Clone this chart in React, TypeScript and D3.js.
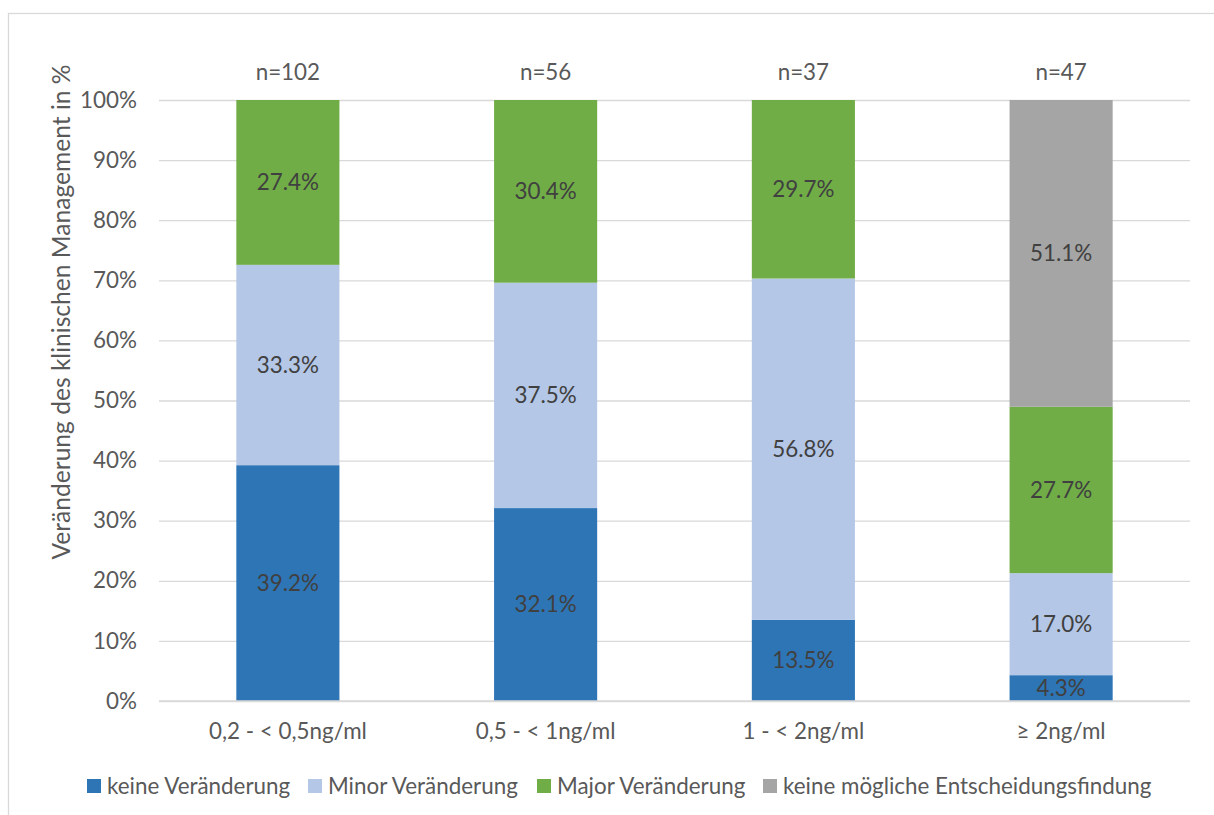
import React, { useEffect, useRef } from 'react';
import * as d3 from 'd3';

const categories = ['0,2 - < 0,5ng/ml', '0,5 - < 1ng/ml', '1 - < 2ng/ml', '≥ 2ng/ml'];
const sampleSizes = ['n=102', 'n=56', 'n=37', 'n=47'];
const seriesNames = ['keine Veränderung', 'Minor Veränderung', 'Major Veränderung', 'keine mögliche Entscheidungsfindung'];
const keine = [39.2, 32.1, 13.5, 4.3];
const minor = [33.3, 37.5, 56.8, 17.0];
const major = [27.4, 30.4, 29.7, 27.7];
const keineEntscheidung = [0, 0, 0, 51.1];
const yTicks = [0, 0.1, 0.2, 0.3, 0.4, 0.5, 0.6, 0.7, 0.8, 0.9, 1];
const colors = ['#2e75b6', '#b4c7e7', '#70ad47', '#a5a5a5'];

const W = 1214;
const H = 815;
const FONT = 'Lato, Calibri, sans-serif';
const FS = 22.4;

const App = () => {
  const svgRef = useRef(null);

  useEffect(() => {
    const svg = d3.select(svgRef.current);
    svg.selectAll('*').remove();

    const margin = { top: 100, right: 24, bottom: 114, left: 159 };
    const x = d3.scaleBand().domain(categories).range([margin.left, W - margin.right]).paddingInner(0.6).paddingOuter(0.3);
    const y = d3.scaleLinear().domain([0, 1]).range([H - margin.bottom, margin.top]);

    // chart frame
    svg.append('rect')
      .attr('x', 8.5).attr('y', 13.5)
      .attr('width', W + 20).attr('height', H + 20)
      .attr('fill', '#fff').attr('stroke', '#d9d9d9').attr('stroke-width', 1.3);

    // gridlines + y ticks
    const yAxis = d3.axisLeft(y).tickValues(yTicks).tickFormat(d3.format('.0%')).tickSize(-(W - margin.right - margin.left)).tickPadding(22);
    svg.append('g')
      .attr('transform', `translate(${margin.left},0)`)
      .call(yAxis)
      .call(g => g.select('.domain').remove())
      .call(g => g.selectAll('.tick line').attr('stroke', '#d9d9d9').attr('stroke-width', 1.3))
      .call(g => g.selectAll('.tick text').attr('fill', '#595959').style('font-family', FONT).style('font-size', FS + 'px'));

    // stacked (100%) bars
    const table = categories.map((c, i) => {
      const vals = [keine[i], minor[i], major[i], keineEntscheidung[i]];
      const sum = d3.sum(vals);
      const row = { cat: c };
      seriesNames.forEach((s, j) => { row[s] = vals[j] / sum; row[s + '_raw'] = vals[j]; });
      return row;
    });
    const stack = d3.stack().keys(seriesNames)(table);

    const layers = svg.append('g').selectAll('g').data(stack).join('g').attr('fill', (d, i) => colors[i]);
    layers.selectAll('rect')
      .data(d => d.filter(p => p[1] - p[0] > 0))
      .join('rect')
      .attr('x', d => x(d.data.cat))
      .attr('width', x.bandwidth())
      .attr('y', d => y(d[1]))
      .attr('height', d => y(d[0]) - y(d[1]));

    // data labels
    const labels = svg.append('g');
    stack.forEach(layer => {
      layer.forEach(p => {
        const raw = p.data[layer.key + '_raw'];
        if (!raw) return;
        labels.append('text')
          .attr('x', x(p.data.cat) + x.bandwidth() / 2)
          .attr('y', (y(p[0]) + y(p[1])) / 2)
          .attr('dy', '0.35em')
          .attr('text-anchor', 'middle')
          .attr('fill', '#404040')
          .style('font-family', FONT).style('font-size', FS + 'px')
          .text(d3.format('.1f')(raw) + '%');
      });
    });

    // n= labels
    svg.append('g').selectAll('text').data(categories).join('text')
      .attr('x', d => x(d) + x.bandwidth() / 2)
      .attr('y', 72)
      .attr('dy', '0.35em')
      .attr('text-anchor', 'middle')
      .attr('fill', '#595959')
      .style('font-family', FONT).style('font-size', FS + 'px')
      .text((d, i) => sampleSizes[i]);

    // x axis
    svg.append('g')
      .attr('transform', `translate(0,${y(0)})`)
      .call(d3.axisBottom(x).tickSize(0).tickPadding(22))
      .call(g => g.select('.domain').attr('stroke', '#d9d9d9').attr('stroke-width', 1.5).attr('d', `M${margin.left},0H${W - margin.right}`))
      .call(g => g.selectAll('.tick text').attr('fill', '#595959').style('font-family', FONT).style('font-size', FS + 'px'));

    // y axis title
    svg.append('text')
      .attr('transform', 'translate(61,312) rotate(-90)')
      .attr('dy', '0.35em')
      .attr('text-anchor', 'middle')
      .attr('fill', '#595959')
      .style('font-family', FONT).style('font-size', '24.6px')
      .text('Veränderung des klinischen Management in %');

    // legend
    const legendX = [87, 308, 537, 763];
    const legend = svg.append('g').selectAll('g').data(seriesNames).join('g')
      .attr('transform', (d, i) => `translate(${legendX[i]},786)`);
    legend.append('rect').attr('x', 0).attr('y', -7).attr('width', 14).attr('height', 14).attr('fill', (d, i) => colors[i]);
    legend.append('text')
      .attr('x', 20).attr('dy', '0.35em')
      .attr('fill', '#595959')
      .style('font-family', FONT).style('font-size', FS + 'px')
      .text(d => d);
  }, []);

  return (
    <svg ref={svgRef} width={W} height={H} viewBox={`0 0 ${W} ${H}`}
      style={{ position: 'absolute', left: 0, top: 0, background: '#fff' }} />
  );
};

export default App;
